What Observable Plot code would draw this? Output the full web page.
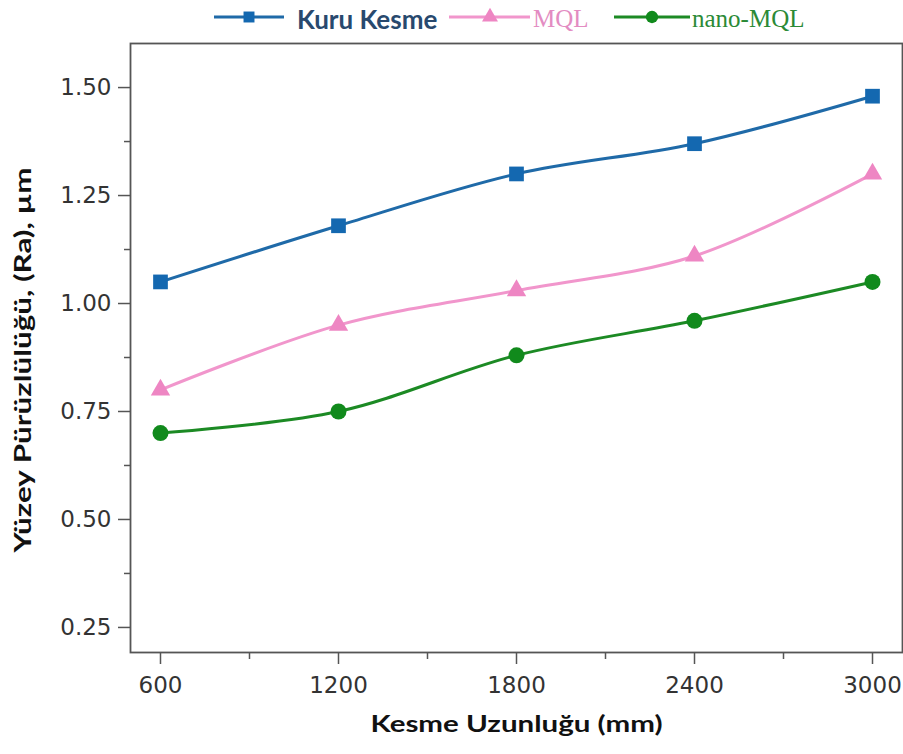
<!DOCTYPE html>
<html>
<head>
<meta charset="utf-8">
<script src="https://cdn.jsdelivr.net/npm/d3@7"></script>
<script src="https://cdn.jsdelivr.net/npm/@observablehq/plot@0.6"></script>
<style>
  html, body { margin: 0; padding: 0; background: #fff; }
  #wrap { width: 903px; }
  #legend { position: relative; width: 903px; height: 36px; }
  #legend span { position: absolute; white-space: nowrap; line-height: 1; }
</style>
</head>
<body>
<div id="wrap">
  <div id="legend"></div>
  <div id="chart"></div>
</div>
<script>
// ---- data ----
const categories = ["600", "1200", "1800", "2400", "3000"];
const seriesNames = ["Kuru Kesme", "MQL", "nano-MQL"];
const kuruKesme = [1.05, 1.18, 1.30, 1.37, 1.48];
const mql = [0.80, 0.95, 1.03, 1.11, 1.30];
const nanoMql = [0.70, 0.75, 0.88, 0.96, 1.05];
const yTicks = [0.25, 0.50, 0.75, 1.00, 1.25, 1.50];
const yMinorTicks = [0.375, 0.625, 0.875, 1.125, 1.375];
const xTitle = "Kesme Uzunluğu (mm)";
const yTitle = "Yüzey Pürüzlülüğü, (Ra), µm";

// ---- styles ----
const lineColors = ["#1f6aa8", "#f196cc", "#1c8a24"];
const dotColors = ["#1468b0", "#ee86c3", "#118a1c"];
const symbols = ["square", "triangle", "circle"];
const radii = [8.3, 7.2, 8];

const values = [kuruKesme, mql, nanoMql];
const rows = seriesNames.flatMap((s, k) =>
  values[k].map((v, i) => ({ series: s, i, v }))
);
const xIdx = categories.map((_, i) => i);
const xMinor = categories.slice(1).map((_, i) => i + 0.5);

const marks = [
  Plot.axisY(yTicks, {
    tickSize: 12, tickPadding: 7, tickFormat: d3.format(".2f"),
    fontSize: 23, stroke: "#555", strokeWidth: 1.5, fill: "#333", label: null
  }),
  Plot.axisY(yMinorTicks, {
    tickSize: 6, tickFormat: () => "", stroke: "#555", strokeWidth: 1.5, label: null
  }),
  Plot.axisX(xIdx, {
    tickSize: 12, tickPadding: 12, tickFormat: i => categories[i],
    fontSize: 23, stroke: "#555", strokeWidth: 1.5, fill: "#333", label: null
  }),
  Plot.axisX(xMinor, {
    tickSize: 7, tickFormat: () => "", stroke: "#555", strokeWidth: 1.5, label: null
  }),
  Plot.frame({ stroke: "#555", strokeWidth: 1.8 }),
];
seriesNames.forEach((s, k) => {
  const data = rows.filter(d => d.series === s);
  marks.push(Plot.line(data, {
    x: "i", y: "v", stroke: lineColors[k], strokeWidth: 3, curve: "catmull-rom"
  }));
});
seriesNames.forEach((s, k) => {
  const data = rows.filter(d => d.series === s);
  marks.push(Plot.dot(data, {
    x: "i", y: "v", symbol: () => symbols[k], fill: dotColors[k], stroke: "none", r: radii[k]
  }));
});
marks.push(Plot.text([xTitle], {
  text: d => d, frameAnchor: "bottom", dy: 79, fontSize: 22, fontWeight: "bold",
  fontFamily: "Lato", fill: "#111"
}));
marks.push(Plot.text([yTitle], {
  text: d => d, frameAnchor: "left", dx: -107, dy: 12, rotate: -90, fontSize: 22,
  fontWeight: "bold", fontFamily: "Lato", fill: "#111"
}));

const chart = Plot.plot({
  width: 903,
  height: 718,
  marginTop: 7,
  marginBottom: 102,
  marginLeft: 130,
  marginRight: 1,
  x: { type: "linear", domain: [-0.1685, 4.1685] },
  y: { type: "linear", domain: [0.192, 1.602] },
  symbol: { domain: symbols, range: symbols },
  style: { fontFamily: "DejaVu Sans", background: "#fff", color: "#333", overflow: "visible" },
  marks
});
document.getElementById("chart").appendChild(chart);

// stretch titles to match reference widths (anchor explicitly at start, centred by offset)
d3.select(chart).selectAll("text").each(function () {
  const t = this.textContent;
  let L = null;
  if (t === xTitle) L = 292;
  if (t === yTitle) L = 385;
  if (L) {
    d3.select(this)
      .attr("text-anchor", "start")
      .attr("x", -L / 2)
      .attr("textLength", L)
      .attr("lengthAdjust", "spacingAndGlyphs");
  }
});

// ---- legend ----
const legendItems = [
  { name: seriesNames[0], x0: 214, x1: 284, mx: 249, tx: 297, font: "bold 26px Lato", color: "#28496e", top: 3 },
  { name: seriesNames[1], x0: 449, x1: 530, mx: 490, tx: 533, font: "25px 'Liberation Serif'", color: "#e38cc2", top: 5 },
  { name: seriesNames[2], x0: 614, x1: 690, mx: 652, tx: 692, font: "25px 'Liberation Serif'", color: "#2b8a36", top: 5 },
];
const legend = d3.select("#legend");
const lsvg = legend.append("svg").attr("width", 903).attr("height", 36)
  .style("position", "absolute").style("left", 0).style("top", 0);
legendItems.forEach((it, k) => {
  lsvg.append("line").attr("x1", it.x0).attr("x2", it.x1).attr("y1", 17).attr("y2", 17)
    .attr("stroke", lineColors[k]).attr("stroke-width", 3);
  const sym = d3.symbol().type(
    symbols[k] === "square" ? d3.symbolSquare : symbols[k] === "triangle" ? d3.symbolTriangle : d3.symbolCircle
  ).size(k === 1 ? 110 : 120);
  lsvg.append("path").attr("d", sym()).attr("transform", `translate(${it.mx},17)`)
    .attr("fill", dotColors[k]);
  legend.append("span").text(it.name)
    .style("left", it.tx + "px").style("top", it.top + "px")
    .style("font", it.font).style("color", it.color);
});
</script>
</body>
</html>
